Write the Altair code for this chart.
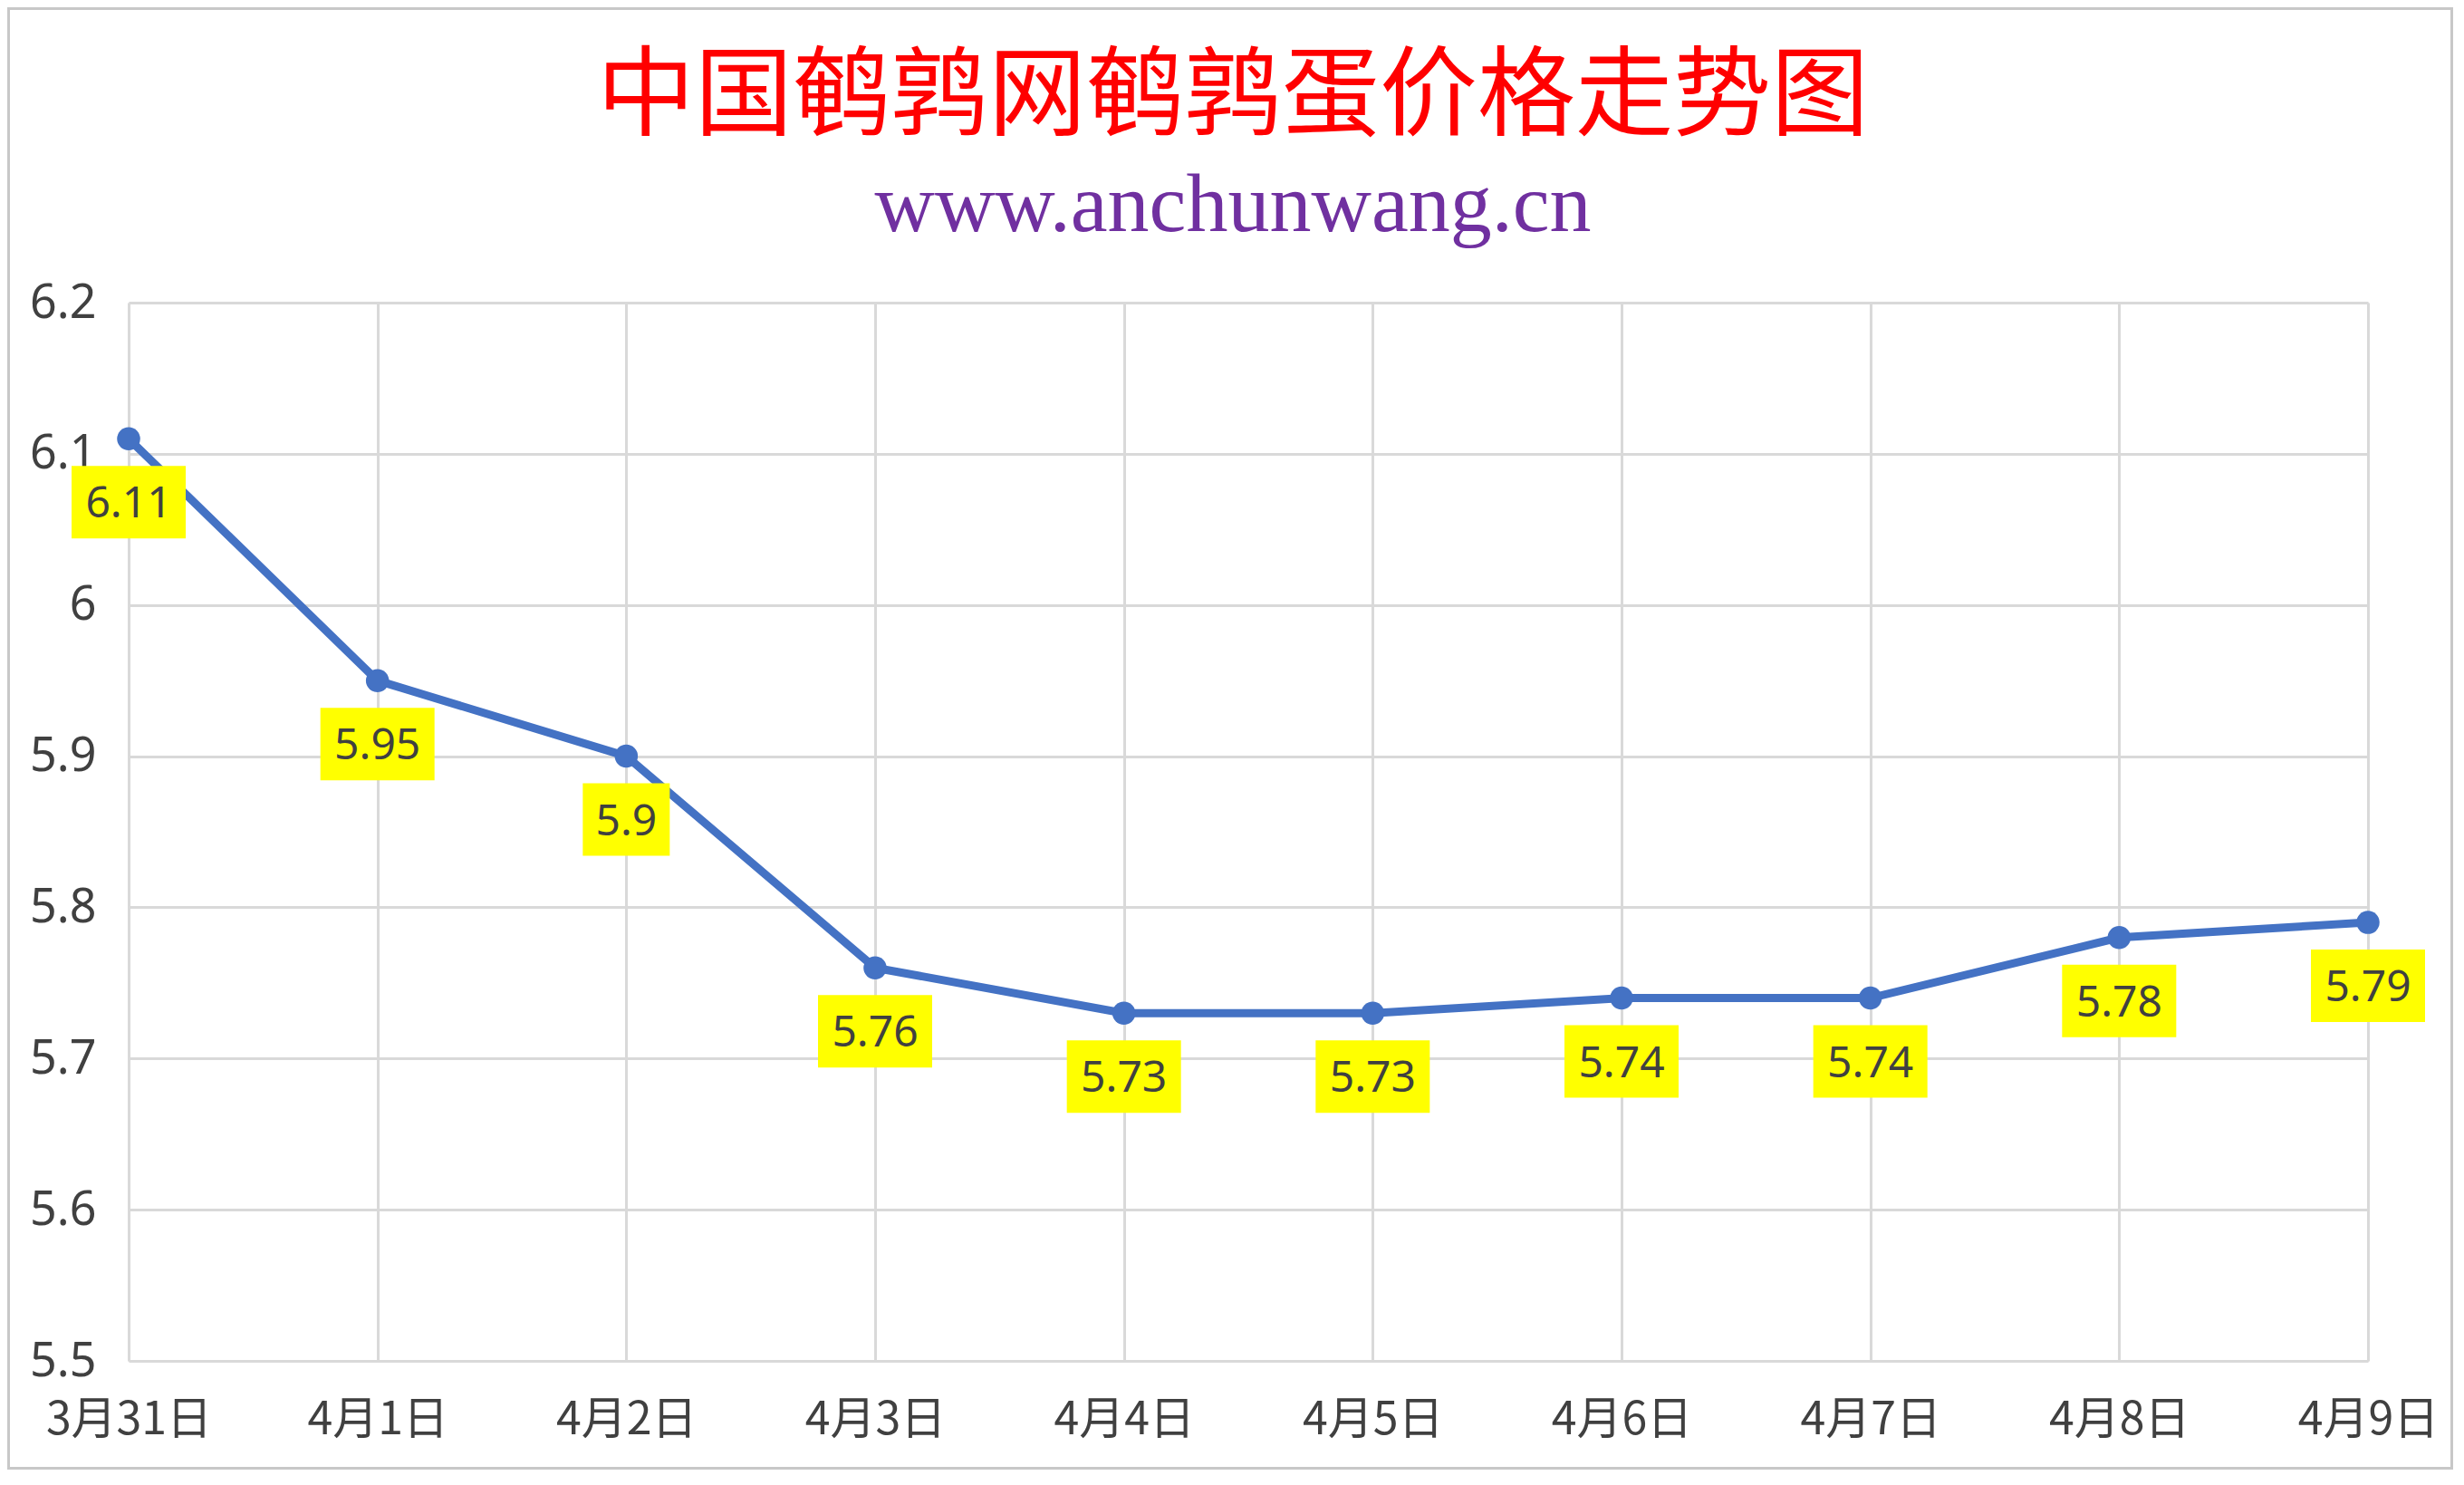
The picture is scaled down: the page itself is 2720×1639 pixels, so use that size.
import altair as alt
import pandas as pd

days = ["3月31日", "4月1日", "4月2日", "4月3日", "4月4日",
        "4月5日", "4月6日", "4月7日", "4月8日", "4月9日"]
prices = [6.11, 5.95, 5.9, 5.76, 5.73, 5.73, 5.74, 5.74, 5.78, 5.79]
y_ticks = [5.5, 5.6, 5.7, 5.8, 5.9, 6.0, 6.1, 6.2]

title_text = ["中国鹌鹑网鹌鹑蛋价格走势图"]
subtitle_text = ["www.anchunwang.cn"]

df = pd.DataFrame({"day": days, "price": prices})

W, H = 2472, 1168
PL, PT, PR, PB = 134, 326, 94, 120

x_enc = alt.X("day:N", sort=days, title=None,
              scale=alt.Scale(type="point", padding=0),
              axis=alt.Axis(labelAngle=0, ticks=False, domain=False, grid=True,
                            gridColor="#d9d9d9", gridWidth=3,
                            labelFont="Noto Sans CJK SC", labelFontSize=50,
                            labelColor="#404040", labelPadding=40,
                            labelLimit=600, labelOverlap=False))
y_enc = alt.Y("price:Q", title=None,
              scale=alt.Scale(domain=[5.5, 6.2], nice=False, zero=False),
              axis=alt.Axis(values=y_ticks, format="~g", ticks=False, domain=False,
                            grid=True, gridColor="#d9d9d9", gridWidth=3,
                            labelFont="Noto Sans", labelFontSize=52,
                            labelColor="#404040", labelPadding=36))

base = alt.Chart(df).encode(x=x_enc, y=y_enc)

frame = alt.Chart(pd.DataFrame({"k": [0]})).mark_rect(
    filled=False, stroke="#c8c8c8", strokeWidth=3
).encode(
    x=alt.value(-PL + 1.5), x2=alt.value(W + PR - 1.5),
    y=alt.value(-PT + 1.5), y2=alt.value(H + PB - 1.5)
)

title = alt.Chart(pd.DataFrame({"t": title_text})).mark_text(
    font="Noto Sans CJK SC", fontSize=108, color="#FF0000",
    align="center", baseline="alphabetic"
).encode(text="t:N", x=alt.value(1219), y=alt.value(-193))

subtitle = alt.Chart(pd.DataFrame({"t": subtitle_text})).mark_text(
    font="Liberation Serif", fontSize=92, color="#7030A0",
    align="center", baseline="alphabetic"
).encode(text="t:N", x=alt.value(1219), y=alt.value(-79))

line = base.mark_line(color="#4472C4", strokeWidth=9)
points = base.mark_point(filled=True, size=650, opacity=1, color="#4472C4")

lab = base.transform_calculate(
    label="toString(datum.price)",
    n="length(toString(datum.price))"
)

box4 = lab.transform_filter("datum.n >= 4").mark_rect(
    color="#FFFF00", xOffset=-63, x2Offset=63, yOffset=30, y2Offset=110
).encode(x2="day:N", y2="price:Q")
box3 = lab.transform_filter("datum.n < 4").mark_rect(
    color="#FFFF00", xOffset=-48, x2Offset=48, yOffset=30, y2Offset=110
).encode(x2="day:N", y2="price:Q")

text = lab.mark_text(
    font="Noto Sans", fontSize=48, color="#404040",
    baseline="middle", align="center", yOffset=73
).encode(text="label:N")

chart = alt.layer(frame, title, subtitle, line, points, box4, box3, text).properties(
    width=W, height=H,
    autosize=alt.AutoSizeParams(type="none"),
    padding={"left": PL, "top": PT, "right": PR, "bottom": PB}
).configure_view(stroke=None).configure(background="white")

chart.save("out.html", embed_options={"renderer": "svg", "actions": False})
